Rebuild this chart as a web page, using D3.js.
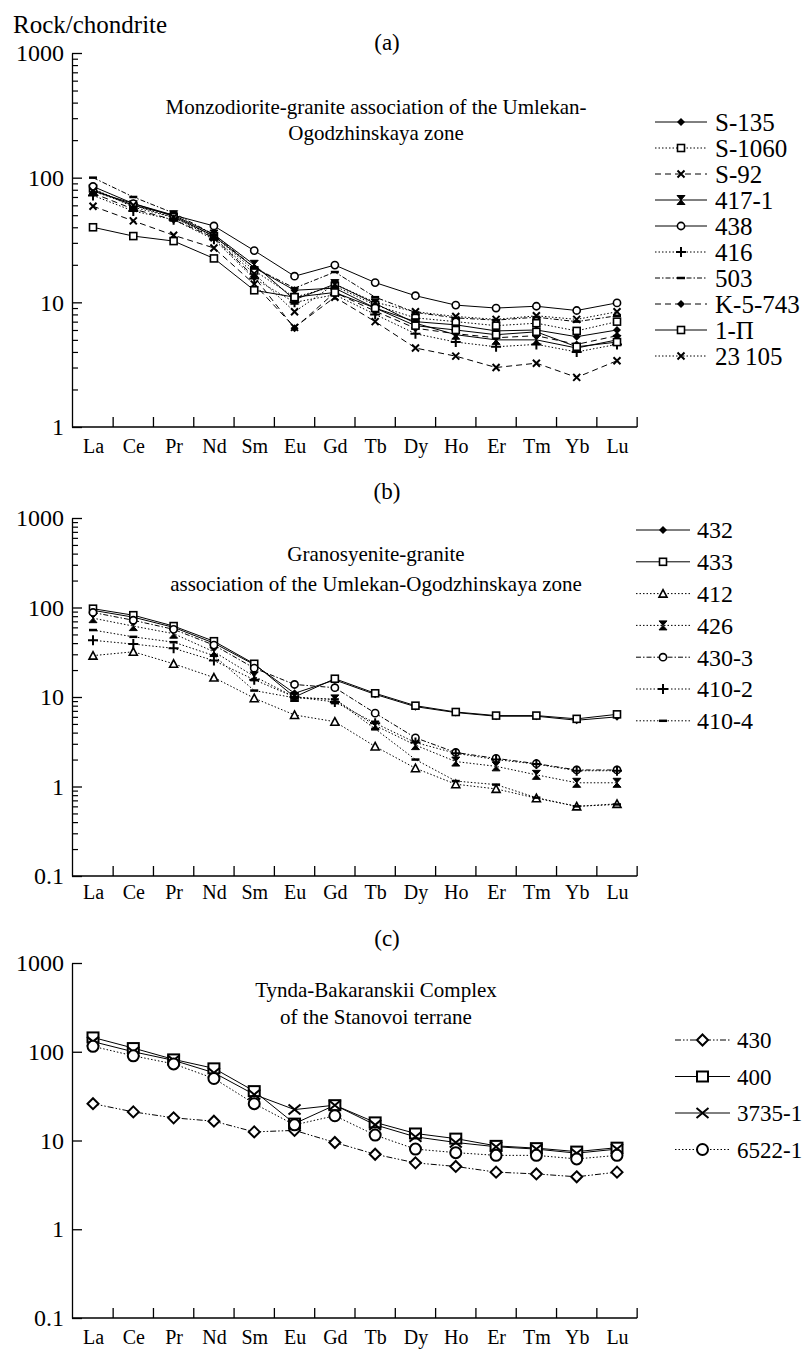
<!DOCTYPE html>
<html>
<head>
<meta charset="utf-8">
<script src="https://cdn.jsdelivr.net/npm/d3@7"></script>
<style>
  body { margin: 0; background: #fff; }
  svg text { font-family: "Liberation Serif", "Times New Roman", Times, "DejaVu Serif", serif !important; fill: #000; }
</style>
</head>
<body>
<svg id="chart" width="810" height="1349"></svg>
<script>
// REE elements on the x axis
const elements = ["La", "Ce", "Pr", "Nd", "Sm", "Eu", "Gd", "Tb", "Dy", "Ho", "Er", "Tm", "Yb", "Lu"];
const ticksA = [1, 10, 100, 1000];
const ticksBC = [0.1, 1, 10, 100, 1000];

// (a) Monzodiorite-granite association
const s135   = [78, 62, 49, 34, 19, 12.5, 13, 9, 7, 6.6, 5.9, 6.0, 5.3, 6.0];
const s1060  = [82, 58, 48, 34, 18, 11, 13.5, 9.5, 7.5, 7.0, 6.5, 6.8, 5.9, 7.0];
const s92    = [59, 45, 34.5, 27.3, 14, 6.3, 11, 7, 4.3, 3.7, 3.0, 3.25, 2.5, 3.4];
const s417   = [80, 60, 50, 35, 20, 10.5, 14, 9.8, 6.8, 5.5, 5.0, 5.0, 4.3, 5.0];
const s438   = [85, 62, 50, 41, 26, 16.2, 19.9, 14.4, 11.3, 9.5, 9.0, 9.3, 8.6, 9.9];
const s416   = [72, 54, 46, 32, 15.5, 10, 11.5, 8, 5.6, 4.8, 4.4, 4.6, 4.0, 4.6];
const s503   = [100, 70, 52, 35, 19, 13, 17.5, 11, 8.3, 7.5, 7.2, 7.6, 7.0, 7.8];
const sK5743 = [75, 56, 46, 33, 16, 6.2, 12, 8.5, 6.2, 5.6, 5.2, 5.4, 4.6, 5.4];
const s1P    = [40, 34, 31, 22.5, 12.5, 11, 12, 9, 6.5, 6.0, 5.5, 5.8, 4.4, 4.8];
const s23105 = [78, 60, 48, 33, 17, 8.4, 14, 10, 8.4, 7.7, 7.3, 7.8, 7.3, 8.4];

// (b) Granosyenite-granite association
const s432  = [93, 78, 60, 40, 23, 11, 15.5, 10.7, 7.8, 6.7, 6.1, 6.1, 5.5, 6.0];
const s433  = [97, 82, 62, 42, 23.5, 10, 16, 11, 8, 6.8, 6.2, 6.2, 5.7, 6.4];
const s412  = [29, 32, 23.5, 16.5, 9.7, 6.3, 5.3, 2.8, 1.6, 1.06, 0.94, 0.74, 0.6, 0.64];
const s426  = [76, 62, 51, 32, 17, 10, 9.4, 4.8, 2.9, 1.9, 1.68, 1.35, 1.1, 1.1];
const s4303 = [88, 72, 57, 38, 21, 13.8, 12.7, 6.6, 3.5, 2.4, 2.06, 1.8, 1.53, 1.53];
const s4102 = [43, 39, 35, 25.5, 15.6, 10, 8.8, 5.1, 3.1, 2.35, 2.0, 1.78, 1.5, 1.5];
const s4104 = [56, 47, 41, 29, 11.8, 9.8, 9.4, 4.4, 2.0, 1.15, 1.05, 0.75, 0.6, 0.63];

// (c) Tynda-Bakaranskii Complex
const s430   = [26, 21, 18, 16.5, 12.5, 13, 9.5, 7, 5.6, 5.1, 4.4, 4.2, 3.9, 4.4];
const s400   = [145, 110, 82, 65, 36, 15.5, 25, 16, 12, 10.5, 8.7, 8.2, 7.5, 8.3];
const s37351 = [130, 100, 80, 58, 33, 22.3, 25, 15, 11, 9.5, 8.5, 8.0, 7.2, 8.0];
const s65221 = [115, 90, 73, 50, 26, 15, 19, 11.5, 8, 7.3, 6.8, 6.8, 6.2, 6.8];

const namesA = ["S-135", "S-1060", "S-92", "417-1", "438", "416", "503", "K-5-743", "1-\u041f", "23\u2009105"];
const valuesA = [s135, s1060, s92, s417, s438, s416, s503, sK5743, s1P, s23105];
const namesB = ["432", "433", "412", "426", "430-3", "410-2", "410-4"];
const valuesB = [s432, s433, s412, s426, s4303, s4102, s4104];
const namesC = ["430", "400", "3735-1", "6522-1"];
const valuesC = [s430, s400, s37351, s65221];

// line dash + marker per series
const dash = { solid: null, dot: "1.5,2", dash: "6,4", dashdot: "5,2,1.5,2", dashdotdot: "6,2,1.5,2,1.5,2" };
const styleA = [
  ["solid", "diamond"], ["dot", "square"], ["dash", "x"], ["solid", "bowtie"], ["solid", "circle"],
  ["dot", "plus"], ["dashdot", "bar"], ["dash", "diamond"], ["solid", "square"], ["dot", "x"]
];
const styleB = [
  ["solid", "diamond"], ["solid", "square"], ["dot", "triangle"], ["dot", "bowtie"],
  ["dashdot", "circle"], ["dot", "plus"], ["dot", "bar"]
];
const styleC = [
  ["dashdotdot", "odiamond"], ["solid", "bigsquare"], ["solid", "bigx"], ["dot", "bigcircle"]
];

const FONT = '"Liberation Serif", "Times New Roman", Times, "DejaVu Serif", serif';
const svg = d3.select("#chart");

function drawMarker(g, type, cx, cy) {
  const m = g.append("g").attr("transform", `translate(${cx},${cy})`);
  if (type === "diamond") {
    m.append("path").attr("d", "M0,-4L4,0L0,4L-4,0Z").attr("fill", "#000");
  } else if (type === "odiamond") {
    m.append("path").attr("d", "M0,-5.5L5.5,0L0,5.5L-5.5,0Z").attr("fill", "#fff").attr("stroke", "#000").attr("stroke-width", 2);
  } else if (type === "square") {
    m.append("rect").attr("x", -3.5).attr("y", -3.5).attr("width", 7).attr("height", 7)
      .attr("fill", "#fff").attr("stroke", "#000").attr("stroke-width", 1.6);
  } else if (type === "bigsquare") {
    m.append("rect").attr("x", -5.5).attr("y", -5).attr("width", 11).attr("height", 10)
      .attr("fill", "#fff").attr("stroke", "#000").attr("stroke-width", 2);
  } else if (type === "x") {
    m.append("path").attr("d", "M-3.5,-3.5L3.5,3.5M-3.5,3.5L3.5,-3.5").attr("stroke", "#000").attr("stroke-width", 2);
  } else if (type === "bigx") {
    m.append("path").attr("d", "M-6,-5L6,5M-6,5L6,-5").attr("stroke", "#000").attr("stroke-width", 2);
  } else if (type === "bowtie") {
    m.append("path").attr("d", "M-4,-4.5L4,-4.5L-4,4.5L4,4.5Z").attr("fill", "#000").attr("stroke", "#000").attr("stroke-width", 1);
  } else if (type === "circle") {
    m.append("circle").attr("r", 3.6).attr("fill", "#fff").attr("stroke", "#000").attr("stroke-width", 1.6);
  } else if (type === "bigcircle") {
    m.append("circle").attr("r", 5.5).attr("fill", "#fff").attr("stroke", "#000").attr("stroke-width", 2);
  } else if (type === "plus") {
    m.append("path").attr("d", "M-5,0H5M0,-5V5").attr("stroke", "#000").attr("stroke-width", 2);
  } else if (type === "bar") {
    m.append("path").attr("d", "M-4,0H4").attr("stroke", "#000").attr("stroke-width", 2.5);
  } else if (type === "triangle") {
    m.append("path").attr("d", "M0,-4L4,3.5L-4,3.5Z").attr("fill", "#fff").attr("stroke", "#000").attr("stroke-width", 1.6);
  }
}

function drawPanel(p) {
  const g = svg.append("g");
  const x = d3.scalePoint().domain(elements).range([93, 617]);
  const step = x.step();
  const y = d3.scaleLog().domain(p.domain).range(p.range);
  const x0 = 72, x1 = x("Lu") + step / 2;
  const yb = p.range[0];

  // y axis, ticks pointing inward
  g.append("g").attr("transform", `translate(${x0},0)`)
    .call(d3.axisLeft(y).tickValues(p.ticks).tickSizeInner(-10).tickSizeOuter(0).tickPadding(8)
      .tickFormat(d3.format("~g")))
    .attr("font-family", FONT)
    .call(a => a.selectAll("text").attr("font-size", 24))
    .call(a => a.selectAll("line,path").attr("stroke", "#000").attr("stroke-width", 1.3));

  if (p.minor) {
    const minors = [];
    p.ticks.slice(0, -1).forEach(t => { for (let k = 2; k <= 9; k++) minors.push(t * k); });
    g.append("g").attr("transform", `translate(${x0},0)`)
      .call(d3.axisLeft(y).tickValues(minors).tickSizeInner(-6).tickSizeOuter(0).tickFormat(""))
      .call(a => a.select(".domain").remove())
      .call(a => a.selectAll("line").attr("stroke", "#000").attr("stroke-width", 1.2));
  }

  // x axis: line + ticks between elements
  g.append("line").attr("x1", x0).attr("x2", x1).attr("y1", yb).attr("y2", yb)
    .attr("stroke", "#000").attr("stroke-width", 1.3);
  elements.forEach(e => {
    const tx = x(e) + step / 2;
    g.append("line").attr("x1", tx).attr("x2", tx).attr("y1", yb).attr("y2", yb - 10)
      .attr("stroke", "#000").attr("stroke-width", 1.3);
  });
  g.append("g").attr("transform", `translate(0,${yb})`)
    .call(d3.axisBottom(x).tickSize(0).tickPadding(p.labelPad))
    .attr("font-family", FONT)
    .call(a => a.select(".domain").remove())
    .call(a => a.selectAll("text").attr("font-size", 20));

  // series
  const line = d3.line().x((d, i) => x(elements[i])).y(d => y(d));
  p.values.forEach((vals, i) => {
    const st = p.styles[i];
    g.append("path").datum(vals).attr("d", line).attr("fill", "none")
      .attr("stroke", "#000").attr("stroke-width", 1)
      .attr("stroke-dasharray", dash[st[0]]);
  });
  p.values.forEach((vals, i) => {
    vals.forEach((v, j) => drawMarker(g, p.styles[i][1], x(elements[j]), y(v)));
  });

  // panel label and annotation
  g.append("text").attr("x", 387).attr("y", p.labelY).attr("text-anchor", "middle")
    .attr("font-family", FONT).attr("font-size", 23).text(p.label);
  p.note.forEach((t, i) => {
    g.append("text").attr("x", 376).attr("y", p.noteY + i * p.noteStep).attr("text-anchor", "middle")
      .attr("font-family", FONT).attr("font-size", 21).text(t);
  });

  // legend
  p.names.forEach((n, i) => {
    const ly = p.leg.y + i * p.leg.step;
    const st = p.styles[i];
    g.append("line").attr("x1", p.leg.x1).attr("x2", p.leg.x2).attr("y1", ly).attr("y2", ly)
      .attr("stroke", "#000").attr("stroke-width", 1).attr("stroke-dasharray", dash[st[0]]);
    drawMarker(g, st[1], (p.leg.x1 + p.leg.x2) / 2, ly);
    g.append("text").attr("x", p.leg.tx).attr("y", ly).attr("dy", "0.35em")
      .attr("font-family", FONT).attr("font-size", p.leg.fs).text(n);
  });
}

svg.append("text").attr("x", 13).attr("y", 33).attr("font-family", FONT).attr("font-size", 25).text("Rock/chondrite");

drawPanel({
  domain: [1, 1000], range: [427, 53], ticks: ticksA, minor: true, labelPad: 12,
  values: valuesA, styles: styleA, names: namesA,
  label: "(a)", labelY: 50,
  note: ["Monzodiorite-granite association of the Umlekan-", "Ogodzhinskaya zone"], noteY: 114, noteStep: 26,
  leg: { x1: 655, x2: 707, tx: 715, y: 122, step: 26, fs: 25 }
});

drawPanel({
  domain: [0.1, 1000], range: [876, 518], ticks: ticksBC, minor: true, labelPad: 9,
  values: valuesB, styles: styleB, names: namesB,
  label: "(b)", labelY: 499,
  note: ["Granosyenite-granite", "association of the Umlekan-Ogodzhinskaya zone"], noteY: 561, noteStep: 30,
  leg: { x1: 636, x2: 690, tx: 697, y: 530, step: 31.8, fs: 24 }
});

drawPanel({
  domain: [0.1, 1000], range: [1318, 963], ticks: ticksBC, minor: false, labelPad: 12,
  values: valuesC, styles: styleC, names: namesC,
  label: "(c)", labelY: 946,
  note: ["Tynda-Bakaranskii Complex", "of the Stanovoi terrane"], noteY: 997, noteStep: 27,
  leg: { x1: 675, x2: 730, tx: 737, y: 1040, step: 36.5, fs: 23 }
});
</script>
</body>
</html>
